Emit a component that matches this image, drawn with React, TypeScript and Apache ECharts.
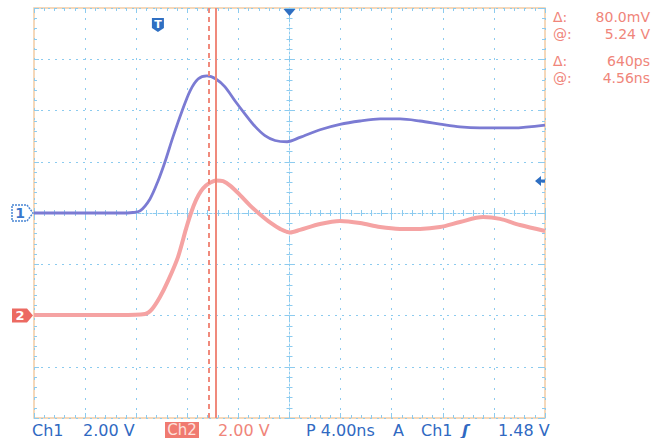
import React, { useEffect, useRef } from "react";
import * as echarts from "echarts";

// Time in ns relative to screen centre (4 ns/div), voltage in V (2 V/div)
const ch1Time = [-20, -17.96, -15.62, -13.27, -12.25, -11.7, -10.92, -10.29, -9.75, -9.12, -8.41, -7.79, -7.16, -6.46, -5.76, -5.05, -4.26, -3.48, -2.70, -1.92, -1.13, -0.19, 0.82, 2.39, 3.95, 5.52, 7.09, 8.65, 10.22, 11.78, 13.35, 14.91, 17.5, 20];
const ch1Volt = [0, 0, 0, 0, 0.02, 0.08, 0.55, 1.25, 1.99, 2.97, 3.98, 4.76, 5.23, 5.35, 5.23, 4.92, 4.37, 3.86, 3.38, 3.02, 2.83, 2.78, 2.95, 3.25, 3.46, 3.59, 3.67, 3.67, 3.59, 3.47, 3.36, 3.32, 3.32, 3.43];
const ch2Time = [-20, -16.4, -13.27, -11.31, -10.76, -10.14, -9.51, -8.73, -8.10, -7.71, -7.32, -6.93, -6.54, -6.15, -5.76, -5.2, -4.6, -3.87, -3.1, -2.3, -1.5, -0.74, 0.04, 0.82, 2.39, 3.95, 5.52, 7.09, 8.65, 10.22, 11.78, 13.35, 15.15, 16.48, 18.04, 20];
const ch2Volt = [-3.98, -3.98, -3.98, -3.94, -3.75, -3.28, -2.65, -1.72, -0.62, 0, 0.5, 0.85, 1.07, 1.2, 1.27, 1.24, 1.05, 0.7, 0.3, -0.06, -0.38, -0.62, -0.76, -0.66, -0.43, -0.31, -0.39, -0.55, -0.62, -0.62, -0.55, -0.35, -0.16, -0.23, -0.47, -0.7];

const cursorDashed = -6.34;
const cursorSolid = -5.74;
const triggerTime = -10.3;
const ch1Offset = 0;
const ch2Offset = -4;
const xTicks = { min: -20, max: 20, interval: 4 };
const yTicks = { min: -8, max: 8, interval: 2 };

const readoutLabels = ["Δ:", "@:", "Δ:", "@:"];
const readoutValues = ["80.0mV", "5.24 V", "640ps", "4.56ns"];

const BLUE_TXT = "#3069c2";
const RED_TXT = "#f0857a";
const GRID_BLUE = "#8ccbef";
const FONT = "DejaVu Sans";

export default function App() {
  const ref = useRef<HTMLDivElement>(null);
  useEffect(() => {
    if (!ref.current) return;
    const chart = echarts.init(ref.current, null, { renderer: "svg" });
    const zip = (a: number[], b: number[]) => a.map((v, i) => [v, b[i]]);
    const baseX = {
      type: "value",
      min: xTicks.min,
      max: xTicks.max,
      interval: xTicks.interval,
      axisLabel: { show: false },
      splitLine: { show: false },
    };
    const baseY = {
      type: "value",
      min: yTicks.min,
      max: yTicks.max,
      interval: yTicks.interval,
      axisLabel: { show: false },
      splitLine: { show: false },
    };
    const tick = (inside: boolean) => ({
      show: true,
      inside,
      length: 5,
      lineStyle: { color: GRID_BLUE, width: 1 },
    });
    const minor = (len: number) => ({
      show: true,
      splitNumber: 5,
      length: len,
      lineStyle: { color: GRID_BLUE, width: 1 },
    });
    const centerLine = { show: true, onZero: true, onZeroAxisIndex: 0, lineStyle: { color: GRID_BLUE, width: 1, type: [2, 2] } };

    chart.setOption({
      animation: false,
      backgroundColor: "#ffffff",
      grid: { left: 34, top: 8, width: 511, height: 410, show: true, borderColor: "#f2cba4", borderWidth: 1.5, backgroundColor: "#ffffff" },
      xAxis: [
        { ...baseX, position: "bottom", axisLine: { show: false, onZero: false }, axisTick: tick(true), minorTick: minor(3),
          splitLine: { show: true, lineStyle: { color: GRID_BLUE, width: 1, type: [2, 8] } } },
        { ...baseX, position: "top", axisLine: { show: false, onZero: false }, axisTick: tick(true), minorTick: minor(3) },
        { ...baseX, position: "bottom", axisLine: centerLine, axisTick: tick(true), minorTick: minor(3) },
        { ...baseX, position: "bottom", axisLine: { show: false, onZero: true, onZeroAxisIndex: 0 }, axisTick: tick(false), minorTick: minor(3) },
      ],
      yAxis: [
        { ...baseY, position: "left", axisLine: { show: false, onZero: false }, axisTick: tick(true), minorTick: minor(3),
          splitLine: { show: true, lineStyle: { color: GRID_BLUE, width: 1, type: [2, 5] } } },
        { ...baseY, position: "right", axisLine: { show: false, onZero: false }, axisTick: tick(true), minorTick: minor(3) },
        { ...baseY, position: "left", axisLine: centerLine, axisTick: tick(true), minorTick: minor(3) },
        { ...baseY, position: "left", axisLine: { show: false, onZero: true, onZeroAxisIndex: 0 }, axisTick: tick(false), minorTick: minor(3) },
      ],
      series: [
        {
          type: "line",
          name: "Ch1",
          xAxisIndex: 0,
          yAxisIndex: 0,
          data: zip(ch1Time, ch1Volt),
          smooth: 0.3,
          showSymbol: false,
          lineStyle: { color: "#7b7bd3", width: 2.8 },
          z: 3,
        },
        {
          type: "line",
          name: "Ch2",
          xAxisIndex: 0,
          yAxisIndex: 0,
          data: zip(ch2Time, ch2Volt),
          smooth: 0.3,
          showSymbol: false,
          lineStyle: { color: "#f5a3a3", width: 4 },
          z: 4,
          markLine: {
            silent: true,
            symbol: "none",
            label: { show: false },
            data: [
              { xAxis: cursorDashed, lineStyle: { color: "#f08a7c", width: 2, type: [5, 4] } },
              { xAxis: cursorSolid, lineStyle: { color: "#f08a7c", width: 2, type: "solid" } },
            ],
          },
        },
      ],
    });

    const px = (t: number, v: number) => chart.convertToPixel({ xAxisIndex: 0, yAxisIndex: 0 }, [t, v]) as number[];
    const y1 = px(0, ch1Offset)[1];
    const y2 = px(0, ch2Offset)[1];
    const xT = px(triggerTime, 0)[0];
    const xC = px(0, 0)[0];
    const topY = px(0, yTicks.max)[1];
    const rightX = px(xTicks.max, 0)[0];

    const txt = (x: number, y: number, s: string, color: string, size = 16, align = "left") => ({
      type: "text",
      x,
      y,
      style: { text: s, fill: color, font: `${size}px "${FONT}"`, textAlign: align, textVerticalAlign: "middle" },
      z: 10,
    });

    const readoutRows = [17, 34, 61, 78];
    const graphics: any[] = [];
    readoutLabels.forEach((l, i) => {
      graphics.push(txt(553, readoutRows[i], l, RED_TXT, 14));
      graphics.push(txt(650, readoutRows[i], readoutValues[i], RED_TXT, 14, "right"));
    });

    // channel 1 marker
    graphics.push({
      type: "polygon",
      shape: { points: [[12, y1 - 8], [27, y1 - 8], [33, y1], [27, y1 + 8], [12, y1 + 8]] },
      style: { fill: "#ffffff", stroke: "#4a86d4", lineWidth: 1.5, lineDash: [2, 1] },
      z: 10,
    });
    graphics.push({ type: "text", x: 20, y: y1, style: { text: "1", fill: "#3a78cc", font: `bold 14px "${FONT}"`, textAlign: "center", textVerticalAlign: "middle" }, z: 11 });
    // channel 2 marker
    graphics.push({
      type: "polygon",
      shape: { points: [[12, y2 - 7], [27, y2 - 7], [33, y2], [27, y2 + 7], [12, y2 + 7]] },
      style: { fill: "#ec6a62" },
      z: 10,
    });
    graphics.push({ type: "text", x: 20, y: y2, style: { text: "2", fill: "#ffffff", font: `bold 13px "${FONT}"`, textAlign: "center", textVerticalAlign: "middle" }, z: 11 });

    // trigger T icon
    graphics.push({
      type: "polygon",
      shape: { points: [[xT - 6, topY + 10], [xT + 6, topY + 10], [xT + 6, topY + 20], [xT, topY + 24], [xT - 6, topY + 20]] },
      style: { fill: "#2f6fc2" },
      z: 10,
    });
    graphics.push({ type: "text", x: xT, y: topY + 16.5, style: { text: "T", fill: "#ffffff", font: `bold 11px "${FONT}"`, textAlign: "center", textVerticalAlign: "middle" }, z: 11 });
    // trigger position triangle
    graphics.push({
      type: "polygon",
      shape: { points: [[xC - 6, topY + 1], [xC + 6, topY + 1], [xC, topY + 8]] },
      style: { fill: "#2f6fc2" },
      z: 10,
    });
    // trigger level arrow
    const ya = 181;
    graphics.push({
      type: "polygon",
      shape: { points: [[rightX - 10, ya], [rightX - 4, ya - 5], [rightX - 4, ya - 1.5], [rightX, ya - 1.5], [rightX, ya + 1.5], [rightX - 4, ya + 1.5], [rightX - 4, ya + 5]] },
      style: { fill: "#2f6fc2" },
      z: 10,
    });

    // status bar
    const sy = 430;
    graphics.push(txt(32, sy, "Ch1", BLUE_TXT));
    graphics.push(txt(83, sy, "2.00 V", BLUE_TXT));
    graphics.push({ type: "rect", shape: { x: 165, y: 422, width: 34, height: 16 }, style: { fill: "#f07a70" }, z: 10 });
    graphics.push({ type: "text", x: 182, y: sy, style: { text: "Ch2", fill: "#fde0dc", font: `15px "${FONT}"`, textAlign: "center", textVerticalAlign: "middle" }, z: 11 });
    graphics.push(txt(218, sy, "2.00 V", RED_TXT));
    graphics.push(txt(306, sy, "P 4.00ns", BLUE_TXT));
    graphics.push(txt(393, sy, "A", BLUE_TXT));
    graphics.push(txt(421, sy, "Ch1", BLUE_TXT));
    graphics.push({ type: "text", x: 462, y: sy, style: { text: "ʃ", fill: BLUE_TXT, font: `bold italic 16px "${FONT}"`, textAlign: "left", textVerticalAlign: "middle" }, z: 10 });
    graphics.push(txt(498, sy, "1.48 V", BLUE_TXT));

    chart.setOption({ graphic: graphics });

    return () => chart.dispose();
  }, []);
  return <div ref={ref} style={{ position: "fixed", left: 0, top: 0, width: 667, height: 438, background: "#fff" }} />;
}
